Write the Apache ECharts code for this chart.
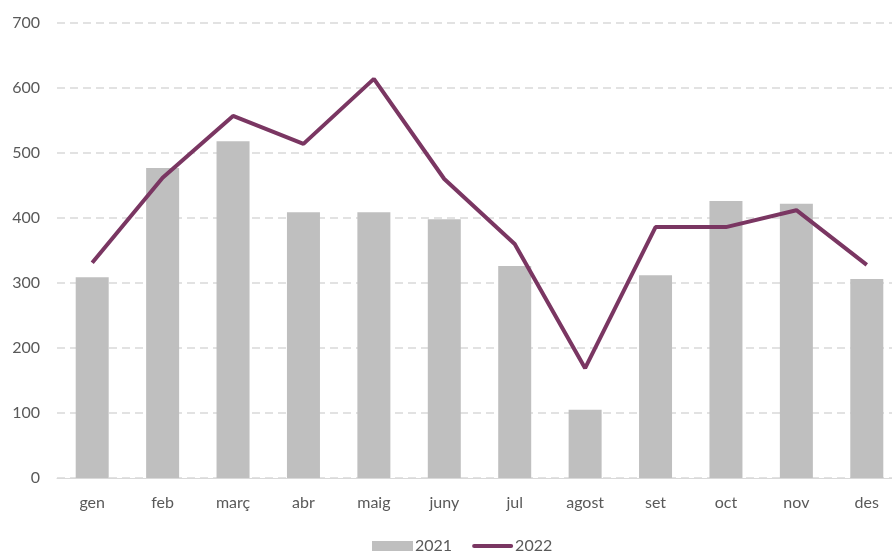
<!DOCTYPE html>
<html>
<head>
<meta charset="utf-8">
<script src="https://cdn.jsdelivr.net/npm/echarts@6/dist/echarts.min.js"></script>
<style>html,body{margin:0;padding:0;background:#fff;}#c{width:892px;height:556px;}</style>
</head>
<body>
<div id="c"></div>
<script>
const categories = ['gen','feb','març','abr','maig','juny','jul','agost','set','oct','nov','des'];
const values2021 = [309, 477, 518, 409, 409, 398, 326, 105, 312, 426, 422, 306];
const values2022 = [331, 462, 557, 514, 614, 460, 360, 169, 386, 386, 412, 328];
const yTicks = {min: 0, max: 700, interval: 100};

const font = 'Lato, "Open Sans", sans-serif';
const chart = echarts.init(document.getElementById('c'), null, {renderer: 'canvas'});
chart.setOption({
  animation: false,
  backgroundColor: '#ffffff',
  textStyle: {fontFamily: font},
  grid: {left: 57, top: 23, width: 845, height: 455, containLabel: false, outerBoundsMode: 'none'},
  legend: {
    top: 538,
    left: 372,
    padding: 0,
    itemWidth: 41,
    itemHeight: 10,
    itemGap: 20,
    textStyle: {fontFamily: font, fontSize: 16, color: '#595959', padding: [0,0,0,-3]},
    data: [
      {name: '2021', icon: 'rect'},
      {name: '2022', icon: 'path://M2,0 L39,0 A2,2 0 0 1 39,4 L2,4 A2,2 0 0 1 2,0 Z'}
    ]
  },
  xAxis: {
    type: 'category',
    data: categories,
    axisLine: {lineStyle: {color: '#d9d9d9', width: 1}},
    axisTick: {show: false},
    axisLabel: {fontFamily: font, fontSize: 16, color: '#595959', margin: 17}
  },
  yAxis: {
    type: 'value',
    min: yTicks.min, max: yTicks.max, interval: yTicks.interval,
    axisLine: {show: false},
    axisTick: {show: false},
    axisLabel: {fontFamily: font, fontSize: 16, color: '#595959', margin: 17},
    splitLine: {lineStyle: {color: '#d9d9d9', width: 1.5, type: [8, 5]}}
  },
  series: [
    {
      name: '2021', type: 'bar', data: values2021, barWidth: 33,
      itemStyle: {color: '#bfbfbf'}
    },
    {
      name: '2022', type: 'line', data: values2022, symbol: 'none', showSymbol: false,
      lineStyle: {color: '#7a3662', width: 4}, itemStyle: {color: '#7a3662'}
    }
  ]
});
</script>
</body>
</html>
